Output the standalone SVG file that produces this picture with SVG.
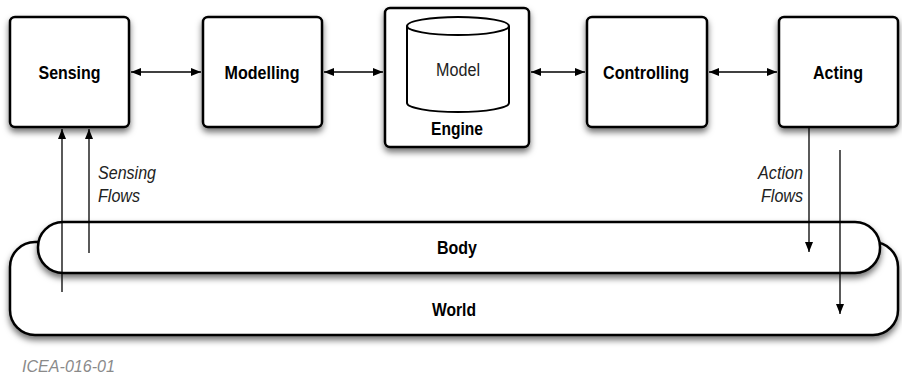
<svg xmlns="http://www.w3.org/2000/svg" width="902" height="377" viewBox="0 0 902 377">
<style>
.box{fill:#fff;stroke:#000;stroke-width:2.5;filter:url(#sh)}
.lbl{font-family:"Liberation Sans",Arial,sans-serif;font-size:18px;font-weight:bold;text-anchor:middle;fill:#000}
.reg{font-family:"Liberation Sans",Arial,sans-serif;font-size:18px;text-anchor:middle;fill:#222}
.it{font-family:"Liberation Sans",Arial,sans-serif;font-size:18px;font-style:italic;fill:#222}
.con{stroke:#000;stroke-width:1.3;fill:none}
</style>
<defs>
<filter id="sh" x="-20%" y="-20%" width="140%" height="150%">
<feDropShadow dx="0" dy="4" stdDeviation="3" flood-color="#000" flood-opacity="0.55"/>
</filter>
<marker id="ah" viewBox="0 0 10 10" refX="10" refY="5" markerWidth="10" markerHeight="10" markerUnits="userSpaceOnUse" orient="auto-start-reverse">
<path d="M0,1 L10,5 L0,9 Z" fill="#000"/>
</marker>
</defs>
<rect width="902" height="377" fill="#fff"/>
<g id="world">
<rect class="box" x="10" y="242" width="888" height="93" rx="25"/>
<text class="lbl" x="454" y="316" textLength="44" lengthAdjust="spacingAndGlyphs">World</text>
</g>
<g id="body">
<rect class="box" x="38" y="222" width="842" height="51" rx="25"/>
<text class="lbl" x="457" y="254" textLength="40" lengthAdjust="spacingAndGlyphs">Body</text>
</g>
<g id="sensing">
<rect class="box" x="10" y="17" width="119" height="110" rx="5"/>
<text class="lbl" x="69.5" y="79" textLength="62" lengthAdjust="spacingAndGlyphs">Sensing</text>
</g>
<g id="modelling">
<rect class="box" x="203" y="17" width="119" height="110" rx="5"/>
<text class="lbl" x="262" y="79" textLength="75" lengthAdjust="spacingAndGlyphs">Modelling</text>
</g>
<g id="engine">
<rect class="box" x="385" y="8" width="144" height="139" rx="5"/>
<path d="M407,26 L407,103 A51,9 0 0 0 509,103 L509,26" fill="#fff" stroke="#000" stroke-width="2"/>
<ellipse cx="458" cy="26" rx="51" ry="9" fill="#fff" stroke="#000" stroke-width="2"/>
<text class="reg" x="458" y="76" textLength="44" lengthAdjust="spacingAndGlyphs">Model</text>
<text class="lbl" x="457" y="135" textLength="52" lengthAdjust="spacingAndGlyphs">Engine</text>
</g>
<g id="controlling">
<rect class="box" x="587" y="17" width="120" height="110" rx="5"/>
<text class="lbl" x="646" y="79" textLength="86" lengthAdjust="spacingAndGlyphs">Controlling</text>
</g>
<g id="acting">
<rect class="box" x="779" y="17" width="119" height="110" rx="5"/>
<text class="lbl" x="838" y="79" textLength="50" lengthAdjust="spacingAndGlyphs">Acting</text>
</g>
<g id="connectors">
<line class="con" x1="131" y1="72" x2="201" y2="72" marker-start="url(#ah)" marker-end="url(#ah)"/>
<line class="con" x1="324" y1="72" x2="383" y2="72" marker-start="url(#ah)" marker-end="url(#ah)"/>
<line class="con" x1="531" y1="72" x2="585" y2="72" marker-start="url(#ah)" marker-end="url(#ah)"/>
<line class="con" x1="709" y1="72" x2="777" y2="72" marker-start="url(#ah)" marker-end="url(#ah)"/>
<line class="con" x1="62" y1="292" x2="62" y2="129" marker-end="url(#ah)"/>
<line class="con" x1="89" y1="253" x2="89" y2="129" marker-end="url(#ah)"/>
<line class="con" x1="809" y1="128" x2="809" y2="252" marker-end="url(#ah)"/>
<line class="con" x1="840" y1="150" x2="840" y2="314" marker-end="url(#ah)"/>
</g>
<text class="it" x="98" y="179" textLength="58" lengthAdjust="spacingAndGlyphs">Sensing</text>
<text class="it" x="98" y="202" textLength="42" lengthAdjust="spacingAndGlyphs">Flows</text>
<text class="it" x="758" y="179" textLength="45" lengthAdjust="spacingAndGlyphs">Action</text>
<text class="it" x="761" y="202" textLength="42" lengthAdjust="spacingAndGlyphs">Flows</text>
<text class="it" x="22" y="372" textLength="93" lengthAdjust="spacingAndGlyphs" style="fill:#8a8a8a;font-size:16px">ICEA-016-01</text>
</svg>
